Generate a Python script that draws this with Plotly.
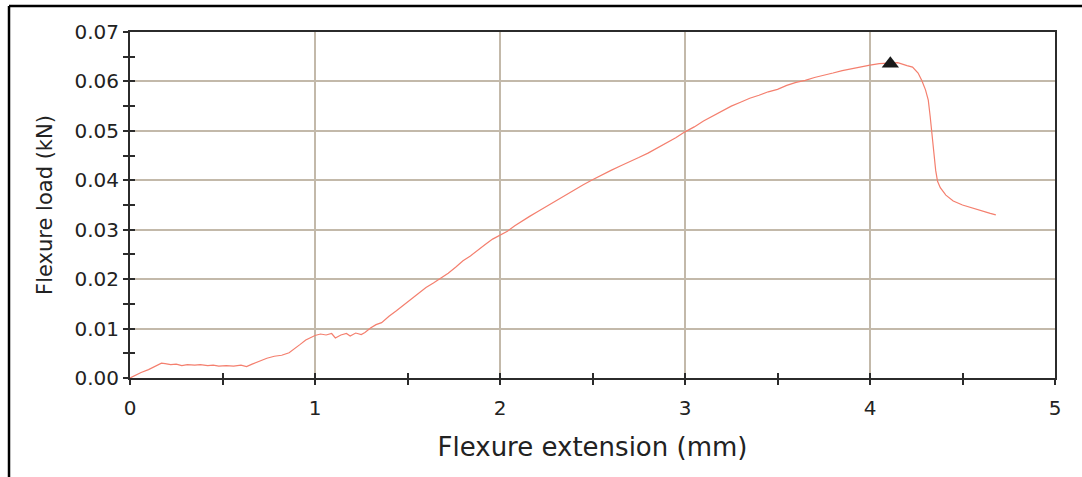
import plotly.graph_objects as go

# Flexure test curve
extension_mm = [
    0.00, 0.03, 0.06, 0.10, 0.14, 0.17, 0.19, 0.22, 0.25, 0.28, 0.31, 0.35, 0.38,
    0.42, 0.45, 0.48, 0.52, 0.56, 0.60, 0.63, 0.66, 0.70, 0.74, 0.78, 0.82, 0.86,
    0.89, 0.92, 0.95, 0.98, 1.00, 1.03, 1.06, 1.09, 1.11, 1.14, 1.17, 1.19, 1.22,
    1.25, 1.27, 1.30, 1.33, 1.36, 1.40, 1.44, 1.48, 1.52, 1.56, 1.60, 1.64, 1.68,
    1.72, 1.76, 1.80, 1.84, 1.88, 1.92, 1.96, 2.00, 2.04, 2.08, 2.12, 2.16, 2.20,
    2.25, 2.30, 2.35, 2.40, 2.45, 2.50, 2.55, 2.60, 2.65, 2.70, 2.75, 2.80, 2.85,
    2.90, 2.95, 3.00, 3.05, 3.10, 3.15, 3.20, 3.25, 3.30, 3.35, 3.40, 3.45, 3.50,
    3.55, 3.60, 3.65, 3.70, 3.75, 3.80, 3.85, 3.90, 3.95, 4.00, 4.05, 4.10, 4.15,
    4.20, 4.23, 4.26, 4.28, 4.30, 4.315, 4.325, 4.335, 4.345, 4.355, 4.365, 4.38,
    4.41, 4.45, 4.50, 4.55, 4.60, 4.65, 4.68,
]
load_kN = [
    0.0000, 0.0006, 0.0011, 0.0017, 0.0024, 0.0030, 0.0029, 0.0027, 0.0028, 0.0025,
    0.0027, 0.0026, 0.0027, 0.0025, 0.0026, 0.0024, 0.0025, 0.0024, 0.0026, 0.0023,
    0.0028, 0.0034, 0.0040, 0.0044, 0.0046, 0.0051, 0.0059, 0.0068, 0.0077, 0.0083,
    0.0086, 0.0089, 0.0087, 0.0090, 0.0081, 0.0087, 0.0090, 0.0085, 0.0091, 0.0088,
    0.0092, 0.0101, 0.0108, 0.0112, 0.0125, 0.0136, 0.0148, 0.0160, 0.0171, 0.0183,
    0.0192, 0.0202, 0.0212, 0.0224, 0.0237, 0.0247, 0.0259, 0.0270, 0.0281, 0.0289,
    0.0297, 0.0308, 0.0318, 0.0327, 0.0336, 0.0347, 0.0358, 0.0369, 0.0381, 0.0391,
    0.0401, 0.0411, 0.0420, 0.0429, 0.0437, 0.0446, 0.0455, 0.0465, 0.0475, 0.0486,
    0.0498, 0.0508, 0.0520, 0.0530, 0.0540, 0.0550, 0.0558, 0.0566, 0.0572, 0.0579,
    0.0584, 0.0592, 0.0598, 0.0602, 0.0608, 0.0612, 0.0617, 0.0622, 0.0626, 0.0629,
    0.0633, 0.0636, 0.0637, 0.0638, 0.0632, 0.0629, 0.0617, 0.0602, 0.0583, 0.0562,
    0.0530, 0.0490, 0.0450, 0.0420, 0.0398, 0.0385, 0.0370, 0.0358, 0.0350, 0.0344,
    0.0339, 0.0333, 0.0330,
]
peak_x = [4.11]
peak_y = [0.0636]

x_ticks = [0, 1, 2, 3, 4, 5]
y_ticks = [0.00, 0.01, 0.02, 0.03, 0.04, 0.05, 0.06, 0.07]

FONT = "DejaVu Sans, Verdana, sans-serif"
INK = "#2b2b2b"
GRID = "#c3b9aa"

fig = go.Figure()
fig.add_trace(go.Scatter(
    x=extension_mm, y=load_kN, mode="lines",
    line=dict(color="#f47f6e", width=1.2), showlegend=False, hoverinfo="skip",
))
fig.add_trace(go.Scatter(
    x=peak_x, y=peak_y, mode="markers",
    marker=dict(symbol="triangle-up", size=15, color="#1a1a1a"),
    showlegend=False,
))
# invisible trace to host the overlay axes (inner half of crossing ticks)
fig.add_trace(go.Scatter(x=[None], y=[None], xaxis="x2", yaxis="y2",
                         showlegend=False, hoverinfo="skip"))

fig.update_layout(
    width=1082, height=477,
    margin=dict(l=130, r=27, t=32, b=99),
    paper_bgcolor="white", plot_bgcolor="white",
    font=dict(family=FONT, color="#222222"),
    xaxis=dict(
        range=[0, 5], tickvals=x_ticks, ticktext=[str(v) for v in x_ticks],
        showgrid=True, gridcolor=GRID, gridwidth=2, zeroline=False,
        showline=True, linecolor=INK, linewidth=2, mirror=True,
        ticks="outside", ticklen=5, tickwidth=2, tickcolor=INK,
        minor=dict(dtick=0.5, tick0=0, ticks="outside", ticklen=5, tickwidth=2,
                   tickcolor=INK, showgrid=False),
        tickfont=dict(size=20, family=FONT, color="#222"),
        ticklabelstandoff=6,
        title=dict(text="Flexure extension (mm)", font=dict(size=26, family=FONT, color="#222"),
                   standoff=19),
    ),
    yaxis=dict(
        range=[0, 0.07], tickvals=y_ticks, ticktext=[f"{v:.2f}" for v in y_ticks],
        showgrid=True, gridcolor=GRID, gridwidth=2, zeroline=False,
        showline=True, linecolor=INK, linewidth=2, mirror=True,
        ticks="outside", ticklen=5, tickwidth=2, tickcolor=INK,
        minor=dict(dtick=0.005, tick0=0, ticks="outside", ticklen=5, tickwidth=2,
                   tickcolor=INK, showgrid=False),
        tickfont=dict(size=20, family=FONT, color="#222"),
        title=dict(text="Flexure load (kN)", font=dict(size=21, family=FONT, color="#222"),
                   standoff=16),
    ),
    xaxis2=dict(
        overlaying="x", anchor="y2", side="bottom", range=[0, 5],
        tickvals=x_ticks, showticklabels=False, showgrid=False, zeroline=False,
        showline=False, ticks="inside", ticklen=5, tickwidth=2, tickcolor=INK,
        minor=dict(dtick=0.5, tick0=0, ticks="inside", ticklen=5, tickwidth=2,
                   tickcolor=INK, showgrid=False),
    ),
    yaxis2=dict(
        overlaying="y", anchor="x2", side="left", range=[0, 0.07],
        tickvals=y_ticks, showticklabels=False, showgrid=False, zeroline=False,
        showline=False, ticks="inside", ticklen=5, tickwidth=2, tickcolor=INK,
        minor=dict(dtick=0.005, tick0=0, ticks="inside", ticklen=5, tickwidth=2,
                   tickcolor=INK, showgrid=False),
    ),
    shapes=[
        # outer frame (left and top edges visible)
        dict(type="line", xref="paper", yref="paper", x0=-0.1308, x1=-0.1308,
             y0=-0.30, y1=1.0751, line=dict(color="black", width=2.5)),
        dict(type="line", xref="paper", yref="paper", x0=-0.1308, x1=1.10,
             y0=1.0751, y1=1.0751, line=dict(color="black", width=2.5)),
    ],
)

fig.write_html("out.html", config={"displayModeBar": False},
               post_script="document.body.style.margin='0';")
